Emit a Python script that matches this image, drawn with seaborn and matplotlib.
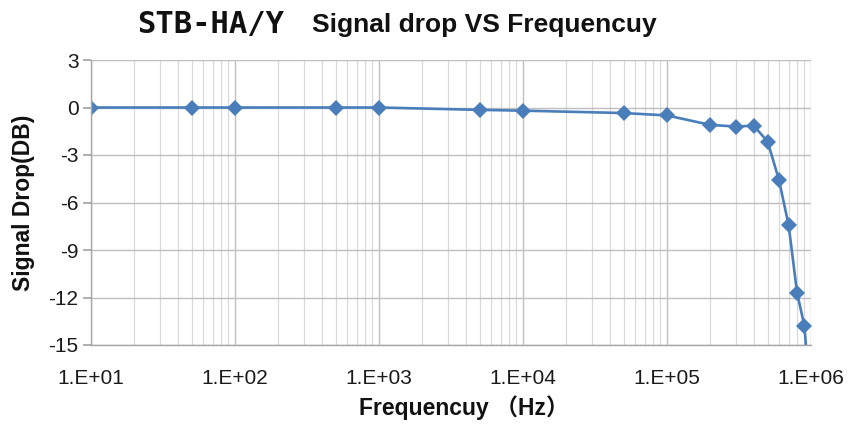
import numpy as np
import pandas as pd
import seaborn as sns
import matplotlib.pyplot as plt
from matplotlib.ticker import FixedLocator, LogLocator, FuncFormatter, NullFormatter

# 周波数 (Hz) と信号減衰 (dB)
freq_hz = [10, 50, 100, 500, 1000, 5000, 10000, 50000, 100000,
           200000, 300000, 400000, 500000, 600000, 700000, 800000, 900000, 1000000]
drop_db = [0.0, 0.0, 0.0, 0.0, 0.0, -0.15, -0.2, -0.35, -0.5,
           -1.1, -1.2, -1.15, -2.15, -4.6, -7.45, -11.7, -13.8, -19.0]

x_ticks = [1e1, 1e2, 1e3, 1e4, 1e5, 1e6]
y_ticks = [3, 0, -3, -6, -9, -12, -15]

df = pd.DataFrame({"freq": freq_hz, "drop": drop_db})

sns.set_theme(style="white")
plt.rcParams["font.family"] = ["Liberation Sans", "Noto Sans CJK JP", "DejaVu Sans"]
plt.rcParams["axes.unicode_minus"] = False

fig = plt.figure(figsize=(8.5, 4.24), dpi=100)
ax = fig.add_axes([91 / 850, 1 - 345 / 424, 720 / 850, 285 / 424])

sns.lineplot(
    data=df, x="freq", y="drop", ax=ax,
    color="#4A7EBB", linewidth=1.9,
    marker="D", markersize=8, markeredgewidth=0,
)

ax.set_xscale("log")
ax.set_xlim(10, 1e6)
ax.set_ylim(-15, 3)

ax.xaxis.set_major_locator(FixedLocator(x_ticks))
ax.xaxis.set_major_formatter(FuncFormatter(lambda v, p: "1.E+%02d" % round(np.log10(v))))
ax.xaxis.set_minor_locator(LogLocator(base=10, subs=np.arange(2, 10)))
ax.xaxis.set_minor_formatter(NullFormatter())
ax.yaxis.set_major_locator(FixedLocator(y_ticks))

ax.grid(which="major", color="#BFBFBF", linewidth=1.0)
ax.grid(which="minor", axis="x", color="#D9D9D9", linewidth=0.9)
ax.set_axisbelow(True)

for s in ["top", "right"]:
    ax.spines[s].set_visible(False)
for s in ["left", "bottom"]:
    ax.spines[s].set_color("#A6A6A6")
    ax.spines[s].set_linewidth(1.0)

ax.tick_params(axis="y", which="major", left=True, length=6, color="#A6A6A6",
               labelsize=15, pad=3, labelcolor="#1a1a1a")
ax.tick_params(axis="x", which="both", bottom=False, labelsize=15, pad=11,
               labelcolor="#1a1a1a")

ax.set_xlabel("Frequencuy （Hz）", fontsize=16.5, fontweight="bold", color="#111111")
ax.set_ylabel("Signal Drop(DB)", fontsize=16.5, fontweight="bold", color="#111111")
ax.xaxis.set_label_coords((464 - 91) / 720, -0.175)
ax.yaxis.set_label_coords(-0.078, 0.5)

# タイトル (2つのフォント)
fig.text(137 / 850, 1 - 33 / 424, "STB-HA/Y", fontsize=22, family="DejaVu Sans Mono",
         fontweight="bold", color="#111111", va="baseline", ha="left")
fig.text(312 / 850, 1 - 32 / 424, "Signal drop VS Frequencuy", fontsize=19,
         fontweight="bold", color="#111111", va="baseline", ha="left")

plt.savefig("out.png", dpi=100)
plt.close()
